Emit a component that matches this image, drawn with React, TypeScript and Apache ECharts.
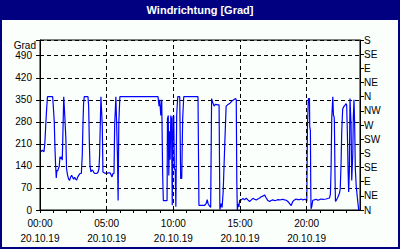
import React, { useEffect, useRef } from 'react';
import * as echarts from 'echarts';

// time of day in hours (20.10.19)
const timeHours = [
  0.07, 0.17, 0.3, 0.37, 0.43, 0.5, 0.56, 0.95, 1.0, 1.07, 1.12, 1.17, 1.22, 1.27, 1.32, 1.37, 1.44, 1.5, 1.55, 1.62,
  1.67, 1.72, 1.78, 1.83, 1.87, 1.94, 1.99, 2.07, 2.15, 2.22, 2.3, 2.37, 2.45, 2.52, 2.6, 2.67, 2.75, 2.82, 2.9, 2.99,
  3.1, 3.17, 3.22, 3.27, 3.32, 3.6, 3.65, 3.7, 3.75, 3.82, 3.9, 3.97, 4.05, 4.15, 4.25, 4.35, 4.42, 4.47, 4.52, 4.57,
  4.62, 4.67, 4.72, 4.82, 4.97, 5.12, 5.25, 5.32, 5.4, 5.47, 5.55, 5.6, 5.65, 5.69, 5.74, 5.81, 5.86, 5.91, 5.99,
  8.85, 8.93, 8.98, 9.06, 9.13, 9.2, 9.25, 9.53, 9.56, 9.62, 9.66, 9.71, 9.76, 9.81, 9.86, 9.92, 9.97, 10.03, 10.08,
  10.14, 10.19, 10.25, 10.33, 10.48, 10.55, 10.63, 10.7, 10.78, 11.85, 11.92, 12.35, 12.46, 12.54, 12.61, 12.72, 12.8,
  12.87, 12.97, 13.06, 13.17, 13.29, 13.43, 13.49, 13.59, 13.66, 13.74, 13.85, 13.96, 14.07, 14.22, 14.37, 14.52,
  14.67, 14.72, 14.76, 14.8, 14.86, 14.92, 14.97,
  15.1, 15.22, 15.34, 15.47, 15.59, 15.72, 15.85, 15.97, 16.09, 16.22, 16.34, 16.47, 16.59, 16.71, 16.84, 16.97,
  17.09, 17.22, 17.34, 17.46, 17.59, 17.72, 17.84, 17.96, 18.09, 18.21, 18.34, 18.47, 18.59, 18.71, 18.84, 18.96,
  19.09, 19.21, 19.33, 19.46, 19.59, 19.71, 19.84, 19.95, 20.01, 20.06, 20.13, 20.21, 20.23, 20.28, 20.31, 20.33,
  20.38, 20.46, 20.58, 20.71, 20.83, 20.96, 21.08, 21.21, 21.46, 21.71, 21.78, 21.83, 21.88, 21.96, 22.01, 22.06,
  22.08, 22.13, 22.16, 22.21, 22.33, 22.46, 22.52, 22.58, 22.63, 22.7, 22.78, 22.88, 22.96, 23.0, 23.05, 23.11,
  23.15, 23.2, 23.25, 23.3, 23.33, 23.38, 23.46, 23.5, 23.55, 23.6, 23.65, 23.72, 23.8, 23.85, 23.9,
];

// wind direction in degrees
const directionDeg = [
  185, 190, 185, 216, 269, 322, 360, 360, 328, 280, 200, 142, 102, 127, 124, 130, 138, 169, 163, 169,
  158, 248, 360, 360, 290, 227, 131, 110, 98, 94, 105, 110, 104, 98, 104, 98, 95, 104, 110, 116,
  116, 174, 269, 340, 360, 360, 328, 216, 140, 121, 127, 125, 118, 116, 116, 120, 131, 174, 269, 360,
  360, 269, 121, 118, 116, 118, 118, 113, 105, 116, 116, 270, 318, 360, 286, 170, 30, 276, 360,
  360, 330, 350, 300, 350, 110, 30, 30, 290, 300, 110, 250, 160, 300, 290, 15, 295, 300, 130,
  128, 10, 300, 360, 360, 100, 100, 290, 360, 360, 15, 15, 20, 33, 20, 12, 8,
  354, 340, 330, 336, 334, 334, 2, 20, 8, 60, 200, 330, 334, 338, 345, 350,
  354, 350, 90, 0, 20, 10, 31,
  32, 37, 32, 38, 32, 27, 32, 37, 34, 32, 35, 38, 42, 44, 48, 38,
  30, 27, 30, 32, 30, 31, 33, 32, 33, 34, 32, 31, 27, 21, 14, 27,
  32, 35, 33, 33, 35, 32, 34, 33, 28, 270, 354, 354, 265, 253, 57, 4,
  10, 31, 32, 34, 31, 33, 35, 34, 35, 38, 50, 127, 290, 360, 300, 296,
  280, 95, 27, 30, 40, 53, 69, 148, 250, 320, 328, 333, 338, 333, 250, 121,
  57, 121, 354, 354, 270, 94, 180, 296, 350, 270, 130, 74, 40, 21, 0,
];

const gridHours = [5, 10, 15, 20];
const leftMaxLabel = 490;
const compassLabels = ['N', 'NE', 'E', 'SE', 'S', 'SW', 'W', 'NW', 'N', 'NE', 'E', 'SE', 'S'];
const dateLabel = '20.10.19';
const titleText = 'Windrichtung [Grad]';
const unitText = 'Grad';

const FONT = 'Liberation Sans';

export default function App() {
  const ref = useRef<HTMLDivElement>(null);
  useEffect(() => {
    const chart = echarts.init(ref.current as HTMLDivElement, null, { renderer: 'svg' });
    const labelStyle = { color: '#000', fontFamily: FONT, fontSize: 10 };
    chart.setOption({
      animation: false,
      backgroundColor: '#fbfffb',
      grid: { left: 40, right: 40, top: 40, bottom: 40, show: true, borderColor: '#000', borderWidth: 1, backgroundColor: 'transparent' },
      graphic: [
        { type: 'rect', shape: { x: 0, y: 0, width: 400, height: 20 }, style: { fill: '#000080' }, silent: true },
        { type: 'rect', shape: { x: 1, y: 1, width: 398, height: 247 }, style: { fill: 'none', stroke: '#000080', lineWidth: 2 }, silent: true },
        { type: 'text', x: 200, y: 9.5, style: { text: titleText, fill: '#fff', font: `bold 11px "${FONT}"`, textAlign: 'center', textVerticalAlign: 'middle' }, silent: true },
        { type: 'text', x: 36, y: 45, style: { text: unitText, fill: '#000', font: `10px "${FONT}"`, textAlign: 'right', textVerticalAlign: 'middle' }, silent: true },
      ],
      xAxis: {
        type: 'value', min: 0, max: 24, interval: 1,
        axisLine: { show: true, lineStyle: { color: '#000', width: 1 } },
        axisTick: { show: true, length: 3, lineStyle: { color: '#000' } },
        splitLine: { show: false },
        axisLabel: {
          ...labelStyle, margin: 6, lineHeight: 15, hideOverlap: false, showMaxLabel: false,
          formatter: (v: number) => (v % 5 === 0 && v < 24 ? `${String(v).padStart(2, '0')}:00\n${dateLabel}` : ''),
        },
      },
      yAxis: [
        {
          type: 'value', min: 0, max: 540, interval: 70, position: 'left',
          axisLine: { show: true, lineStyle: { color: '#000' } },
          axisTick: { show: true, length: 4, lineStyle: { color: '#000' } },
          splitLine: { show: true, lineStyle: { color: '#000', type: [4, 3], width: 1 } },
          axisLabel: { ...labelStyle, margin: 8, formatter: (v: number) => (v <= leftMaxLabel ? String(v) : '') },
        },
        {
          type: 'value', min: 0, max: 540, interval: 45, position: 'right',
          axisLine: { show: true, lineStyle: { color: '#000' } },
          axisTick: { show: true, length: 4, lineStyle: { color: '#000' } },
          splitLine: { show: false },
          axisLabel: { ...labelStyle, margin: 4, formatter: (v: number) => compassLabels[Math.round(v / 45)] ?? '' },
        },
      ],
      series: [
        {
          type: 'line',
          yAxisIndex: 0,
          data: timeHours.map((h, i) => [h, directionDeg[i]]),
          showSymbol: false,
          symbol: 'none',
          lineStyle: { color: '#0000ff', width: 1.2 },
          itemStyle: { color: '#0000ff' },
          z: 3,
          markLine: {
            silent: true,
            symbol: ['none', 'none'],
            label: { show: false },
            lineStyle: { color: '#000', type: [4, 3], width: 1 },
            data: gridHours.map((h) => ({ xAxis: h })),
          },
        },
      ],
    });
    return () => chart.dispose();
  }, []);
  return <div ref={ref} style={{ width: 400, height: 250, position: 'absolute', left: 0, top: 0 }} />;
}
